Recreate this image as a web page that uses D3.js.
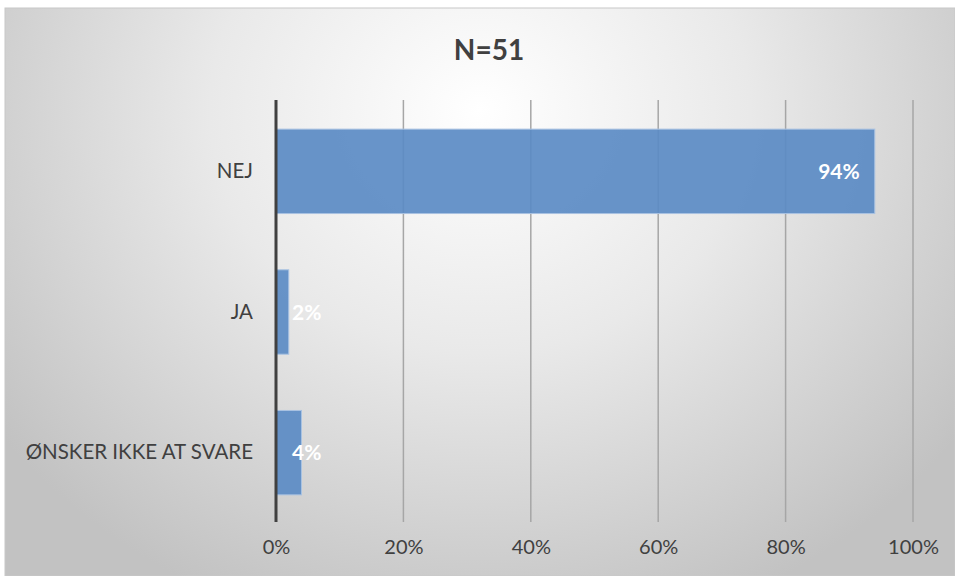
<!DOCTYPE html>
<html><head><meta charset="utf-8">
<script src="https://cdn.jsdelivr.net/npm/d3@7"></script>
<style>html,body{margin:0;padding:0;background:#fff;overflow:hidden}</style>
</head><body>
<svg id="c" width="955" height="576"></svg>
<script>
const categories = ["NEJ", "JA", "ØNSKER IKKE AT SVARE"];
const values = [94, 2, 4];
const tickValues = [0, 20, 40, 60, 80, 100];
const title = "N=51";

const svg = d3.select("#c");
const defs = svg.append("defs");
const g1 = defs.append("radialGradient").attr("id","bg")
  .attr("gradientUnits","userSpaceOnUse").attr("cx",480).attr("cy",110).attr("r",600)
  .attr("gradientTransform","translate(480,110) scale(1,0.9) translate(-480,-110)");
g1.append("stop").attr("offset","0").attr("stop-color","#ffffff");
g1.append("stop").attr("offset","0.45").attr("stop-color","#e9e9e9");
g1.append("stop").attr("offset","1").attr("stop-color","#c2c2c2");

svg.append("rect").attr("x",5).attr("y",8).attr("width",950).attr("height",568)
  .attr("fill","url(#bg)").attr("stroke","#c8c8c8").attr("stroke-width",1);

const font = "Lato, 'Open Sans', sans-serif";
const x = d3.scaleLinear().domain([0,100]).range([276,913]);
const y = d3.scaleBand().domain(categories).range([101,523]).paddingInner(0.4).paddingOuter(0.2);

svg.append("g").selectAll("line").data(tickValues.slice(1)).join("line")
  .attr("x1",d=>x(d)).attr("x2",d=>x(d)).attr("y1",100).attr("y2",522)
  .attr("stroke","#a6a6a6").attr("stroke-width",1.5);

svg.append("g").selectAll("rect").data(values).join("rect")
  .attr("x",x(0)).attr("y",(d,i)=>y(categories[i]))
  .attr("width",d=>x(d)-x(0)).attr("height",y.bandwidth())
  .attr("fill","#5b8bc4").attr("fill-opacity",0.92)
  .attr("stroke","#a9c2e2").attr("stroke-width",1);

svg.append("line").attr("x1",x(0)).attr("x2",x(0)).attr("y1",100).attr("y2",522)
  .attr("stroke","#404040").attr("stroke-width",3);

const xa = d3.axisBottom(x).tickValues(tickValues).tickFormat(d=>d+"%").tickSize(0).tickPadding(0);
const xg = svg.append("g").attr("transform","translate(0,539)").call(xa);
xg.select(".domain").remove();
xg.selectAll("text").attr("font-family",font).attr("font-size",20).attr("fill","#404040").attr("dy","0.75em");

const ya = d3.axisLeft(y).tickSize(0).tickPadding(23);
const yg = svg.append("g").attr("transform",`translate(${x(0)},0)`).call(ya);
yg.select(".domain").remove();
yg.selectAll("text").attr("font-family",font).attr("font-size",20.5).attr("fill","#404040");

svg.append("g").selectAll("text").data(values).join("text")
  .attr("x",d=> d>20 ? x(d)-15 : x(0)+16)
  .attr("text-anchor",d=> d>20 ? "end" : "start")
  .attr("y",(d,i)=>y(categories[i])+y.bandwidth()/2)
  .attr("dy","0.36em")
  .attr("font-family",font).attr("font-size",21).attr("font-weight","bold").attr("fill","#ffffff")
  .text(d=>d+"%");

svg.append("text").attr("x",489).attr("y",60).attr("text-anchor","middle")
  .attr("font-family",font).attr("font-size",28).attr("font-weight","bold").attr("fill","#404040")
  .text(title);
</script>
</body></html>
